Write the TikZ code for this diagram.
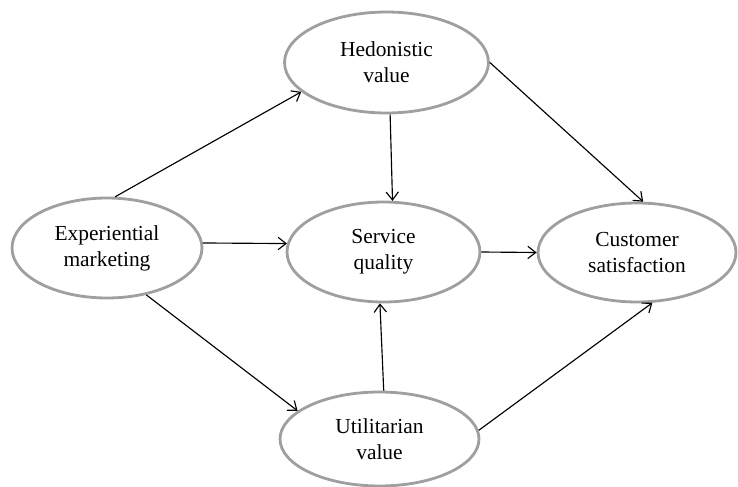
\documentclass[tikz,border=0pt]{standalone}
\usepackage{fontspec}
\setmainfont{Liberation Serif}
\usetikzlibrary{shapes.geometric,arrows.meta,positioning}

\begin{document}
\begin{tikzpicture}[x=0.02cm,y=-0.02cm,
  var/.style={ellipse,draw=gray!75,line width=1.6pt,inner sep=0pt,align=center,
    font=\fontsize{12.2}{14.8}\selectfont},
  conn/.style={-{Straight Barb[length=4.5pt,width=7pt]},line width=0.65pt}]
\useasboundingbox (0,0) rectangle (738,487);

\node (exp) at (107,248) [var,minimum width=3.8cm,minimum height=2.0cm] {Experiential\\marketing};
\node (hed) at (386.5,62.5) [var,minimum width=4.08cm,minimum height=2.02cm] {Hedonistic\\value};
\node (ser) at (383.5,252) [var,minimum width=3.86cm,minimum height=2.0cm] {Service\\quality};
\node (uti) at (379.5,439) [var,minimum width=3.98cm,minimum height=1.88cm] {Utilitarian\\value};
\node (cus) at (637,252.5) [var,minimum width=3.96cm,minimum height=1.98cm] {Customer\\satisfaction};

\draw[conn] (exp.81) -- (hed.199);
\draw[conn] (exp.3) -- (ser.175);
\draw[conn] (exp.-50) -- (uti.161);
\draw[conn] (hed.-86) -- (ser.80);
\draw[conn] (hed.0) -- (cus.83);
\draw[conn] (ser.0) -- (cus.180);
\draw[conn] (uti.85) -- (ser.266);
\draw[conn] (uti.5) -- (cus.-73);
\end{tikzpicture}
\end{document}
